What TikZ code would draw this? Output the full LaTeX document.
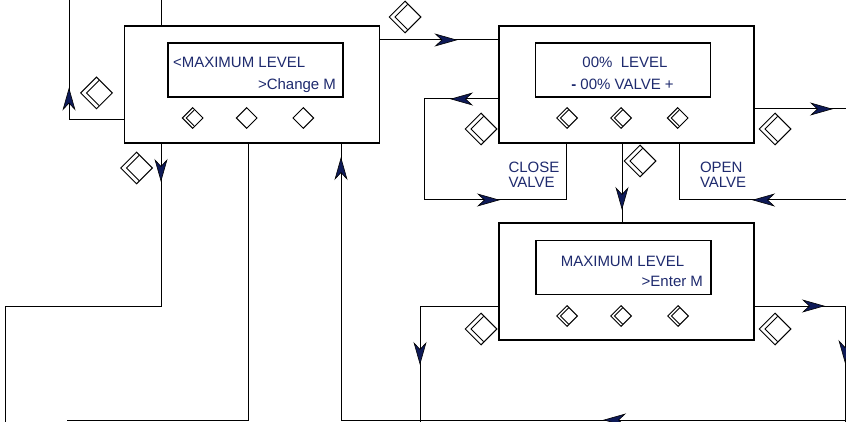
\documentclass[tikz,border=0pt]{standalone}
\usepackage{fontspec}
\setmainfont{Liberation Sans}
\usetikzlibrary{shapes.geometric,arrows.meta,decorations.markings}
\definecolor{lcdblue}{RGB}{30,42,110}
\definecolor{tipblue}{RGB}{14,26,88}
\begin{document}
\begin{tikzpicture}[x=1pt,y=-1pt,
  panel/.style={draw, line width=1.2pt, inner sep=0pt, outer sep=0pt, minimum width=255pt, minimum height=117pt},
  screen/.style={draw, line width=1.2pt, inner sep=0pt, outer sep=0pt, minimum width=175pt, minimum height=54pt},
  lbl/.style={text=lcdblue, inner sep=0pt, outer sep=0pt, font=\fontsize{15}{14.6}\selectfont},
  btn/.style={draw, diamond, line width=1pt, minimum size=21pt, inner sep=0pt, fill=white},
  flag/.style={draw, diamond, line width=1pt, minimum size=32pt, inner sep=0pt, fill=white},
  bchev/.style={path picture={\draw[line width=0.9pt, shift={(path picture bounding box.center)}, rotate=#1] (2.5,-12.5) -- (-10,0) -- (2.5,12.5);}},
  schev/.style={path picture={\draw[line width=0.8pt, shift={(path picture bounding box.center)}, rotate=#1] (1.5,-8) -- (-6.5,0) -- (1.5,8);}},
  wire/.style={line width=1pt},
  arrowat/.style={postaction={decorate, decoration={markings, mark=at position #1 with {\arrow{Stealth[length=23pt,width=13pt,inset=7pt,fill=tipblue,line width=0.6pt]}}}}}
]
\useasboundingbox (0,0) rectangle (846,422);
\clip (0,0) rectangle (846,422);
\fill[white] (0,0) rectangle (846,422);

% panels
\node[panel] (A) at (252,84.5) {};
\node[screen] (sA) at (255.5,70) {};
\node[panel] (B) at (626.5,84.5) {};
\node[screen] (sB) at (623,70) {};
\node[panel] (C) at (626.5,281.5) {};
\node[screen] (sC) at (623.5,267.5) {};

% display texts
\node[lbl, anchor=base west] (tA1) at (173,67.3) {<MAXIMUM LEVEL};
\node[lbl, anchor=base east] (tA2) at (336,89.3) {>Change M};
\node[lbl, anchor=base] (tB1) at (625,67.3) {00\% \ LEVEL};
\node[lbl, anchor=base] (tB2) at (622.5,89.3) {{\bfseries -} 00\% VALVE +};
\node[lbl, anchor=base] (tC1) at (622.5,266) {MAXIMUM LEVEL};
\node[lbl, anchor=base east] (tC2) at (703,286.7) {>Enter M};
\node[lbl, anchor=base west, align=left] (tClose) at (508.5,187.3) {CLOSE\\VALVE};
\node[lbl, anchor=base west, align=left] (tOpen) at (700,187.3) {OPEN\\VALVE};

% connector coordinates
\coordinate (tl1) at (69,0);
\coordinate (bend1) at (69,120);
\coordinate (tl2) at (161,0);
\coordinate (r1) at (0,40);
\coordinate (d1) at (161,306);
\coordinate (d2) at (5,306);
\coordinate (e1) at (5,422);
\coordinate (d3) at (248,420);
\coordinate (e2) at (67,420);
\coordinate (e3) at (846,420);
\coordinate (d4) at (341,420);
\coordinate (k1) at (424,99);
\coordinate (k2) at (424,200);
\coordinate (k3) at (566,200);
\coordinate (m1) at (622,0);
\coordinate (e4) at (846,200);
\coordinate (k4) at (679,200);
\coordinate (e5) at (846,109);
\coordinate (k5) at (420,306);
\coordinate (e6) at (420,422);
\coordinate (k6) at (845,306);
\coordinate (e7) at (845,422);

% connectors
\draw[wire, arrowat=88pt] (A.west |- bend1) -- (bend1) -- (tl1);
\draw[wire] (tl2) -- (tl2 |- A.north);
\draw[wire, arrowat=78pt] (A.east |- r1) -- (B.west |- r1);
\draw[wire, arrowat=39pt] (d1 |- A.south) -- (d1) -- (d2) -- (e1);
\draw[wire] (d3 |- A.south) -- (d3) -- (e2);
\draw[wire, arrowat=243pt, arrowat=768pt] (e3) -- (d4) -- (d4 |- A.south);
\draw[wire, arrowat=49pt, arrowat=252pt] (B.west |- k1) -- (k1) -- (k2) -- (k3) -- (k3 |- B.south);
\draw[wire, arrowat=67pt] (m1 |- B.south) -- (m1 |- C.north);
\draw[wire, arrowat=94pt] (e4) -- (k4) -- (k4 |- B.south);
\draw[wire, arrowat=79pt] (B.east |- e5) -- (e5);
\draw[wire, arrowat=138pt] (C.west |- k5) -- (k5) -- (e6);
\draw[wire, arrowat=71pt, arrowat=148pt] (C.east |- k6) -- (k6) -- (e7);

% buttons
\node[btn, schev=0] (bA1) at (192.7,118) {};
\node[btn] (bA2) at (246.7,118) {};
\node[btn] (bA3) at (303.3,118) {};
\node[btn, schev=0] (bB1) at (567,118) {};
\node[btn, schev=-90] (bB2) at (621,118) {};
\node[btn, schev=180] (bB3) at (677.7,118) {};
\node[btn, schev=0] (bC1) at (567,316) {};
\node[btn, schev=-90] (bC2) at (621,316) {};
\node[btn, schev=180] (bC3) at (678,316) {};

% flow flags
\node[flag, bchev=0] (f1) at (96.5,93) {};
\node[flag, bchev=-90] (f2) at (136.5,168) {};
\node[flag, bchev=180] (f3) at (405,17) {};
\node[flag, bchev=0] (f4) at (481,129) {};
\node[flag, bchev=-90] (f5) at (640,161) {};
\node[flag, bchev=180] (f6) at (775,129) {};
\node[flag, bchev=0] (f7) at (481,329) {};
\node[flag, bchev=180] (f8) at (775,329) {};
\end{tikzpicture}
\end{document}
